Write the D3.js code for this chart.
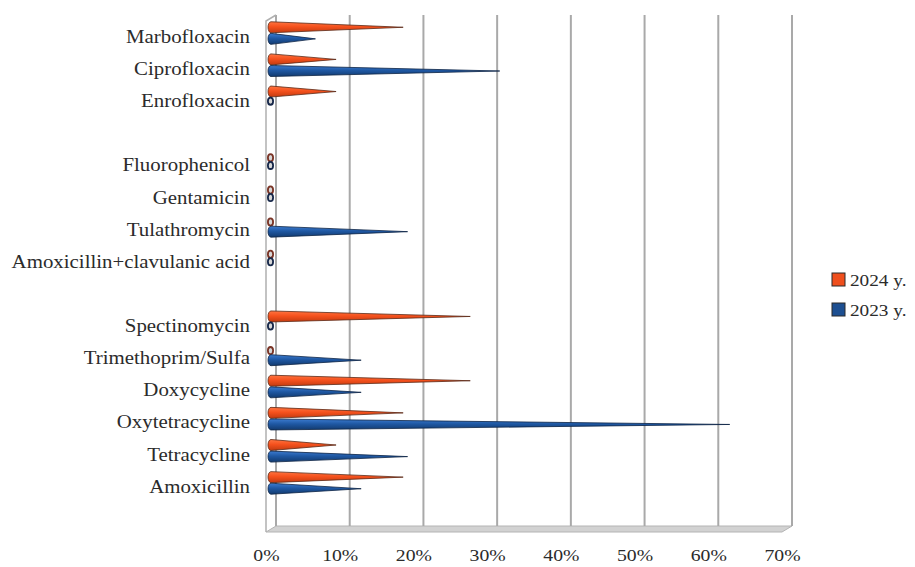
<!DOCTYPE html>
<html>
<head>
<meta charset="utf-8">
<script src="https://cdn.jsdelivr.net/npm/d3@7/dist/d3.min.js"></script>
<style>
  html, body { margin: 0; padding: 0; background: #fff; }
  svg { display: block; }
  text { font-family: "Liberation Serif", "Times New Roman", serif; fill: #2b2b2b; }
</style>
</head>
<body>
<svg id="chart" width="915" height="567"></svg>
<script>
// Antibiotic usage share by drug, two survey years (null = spacer row)
const categories = [
  "Marbofloxacin", "Ciprofloxacin", "Enrofloxacin", null,
  "Fluorophenicol", "Gentamicin", "Tulathromycin", "Amoxicillin+clavulanic acid", null,
  "Spectinomycin", "Trimethoprim/Sulfa", "Doxycycline", "Oxytetracycline", "Tetracycline", "Amoxicillin"
];
const values2024 = [18.2, 9.1, 9.1, null, 0, 0, 0, 0, null, 27.3, 0, 27.3, 18.2, 9.1, 18.2];
const values2023 = [6.3, 31.3, 0, null, 0, 0, 18.8, 0, null, 0, 12.5, 12.5, 62.5, 18.8, 12.5];
const seriesNames = ["2024 y.", "2023 y."];
const tickValues = [0, 10, 20, 30, 40, 50, 60, 70];

const svg = d3.select("#chart");
const defs = svg.append("defs");

// 3D depth of the plot box (front -> back shift)
const depthX = 10, depthY = -6;
const x = d3.scaleLinear().domain([0, 70]).range([266, 782]);
const y = d3.scaleBand().domain(d3.range(categories.length)).range([21, 503]).paddingInner(0);
const stretch = 1.16;

const palette = {
  "2024 y.": { top: "#ff7440", mid: "#f5511d", bot: "#c23b10", edge: "#5a2a18", ring: "#7a3426", legend: "#ef4f1d" },
  "2023 y.": { top: "#3c7bcf", mid: "#1f58a3", bot: "#123a6e", edge: "#0e2445", ring: "#17284a", legend: "#1d4f91" }
};
seriesNames.forEach((s, k) => {
  const p = palette[s];
  const g = defs.append("linearGradient").attr("id", "grad" + k)
    .attr("x1", 0).attr("y1", 0).attr("x2", 0).attr("y2", 1);
  g.append("stop").attr("offset", "0%").attr("stop-color", p.top);
  g.append("stop").attr("offset", "45%").attr("stop-color", p.mid);
  g.append("stop").attr("offset", "100%").attr("stop-color", p.bot);
});

// floor of the plot box
const yTopBack = 15, yBotFront = 532;
const floorPts = [
  [x(0), yBotFront], [x(0) + depthX, yBotFront + depthY],
  [x(70) + depthX, yBotFront + depthY], [x(70), yBotFront]
];
svg.append("path")
  .attr("d", d3.line()(floorPts) + "Z")
  .attr("fill", "#d2d2d2").attr("stroke", "#b4b4b4").attr("stroke-width", 1);

// back-wall gridlines
svg.append("g").selectAll("line").data(tickValues).join("line")
  .attr("x1", d => x(d) + depthX).attr("x2", d => x(d) + depthX)
  .attr("y1", yTopBack).attr("y2", yBotFront + depthY)
  .attr("stroke", "#a9a9a9").attr("stroke-width", 2);

// left side wall
svg.append("path")
  .attr("d", d3.line()([
    [x(0), yBotFront], [x(0), yTopBack - depthY],
    [x(0) + depthX, yTopBack]
  ]))
  .attr("fill", "none").attr("stroke", "#b0b0b0").attr("stroke-width", 1.5);

// cones
const cx0 = x(0) + depthX / 2;
const r = 5.5;
const rx = 3;
const rows = [];
categories.forEach((c, i) => {
  if (c === null) return;
  const yc = y(i) + y.bandwidth() / 2 - 4;
  [values2024[i], values2023[i]].forEach((v, k) => {
    rows.push({ i, k, v, cy: yc + (k === 0 ? -5.8 : 5.8) });
  });
});

const bars = svg.append("g");
rows.forEach(d => {
  const p = palette[seriesNames[d.k]];
  if (d.v > 0) {
    const tip = x(d.v) + 3;
    const path = `M${cx0},${d.cy - r} L${tip},${d.cy} L${cx0},${d.cy + r} A${rx},${r} 0 0 1 ${cx0},${d.cy - r} Z`;
    bars.append("path").attr("d", path)
      .attr("fill", `url(#grad${d.k})`)
      .attr("stroke", p.edge).attr("stroke-width", 0.8).attr("stroke-linejoin", "round");
  } else {
    bars.append("ellipse")
      .attr("cx", cx0 - 0.5).attr("cy", d.cy + (d.k === 0 ? 2.0 : -2.0))
      .attr("rx", 2.6).attr("ry", 3.6)
      .attr("fill", "#d8d8d8").attr("stroke", p.ring).attr("stroke-width", 1.8);
  }
});

// category labels
const yAxis = d3.axisLeft(y)
  .tickValues(d3.range(categories.length).filter(i => categories[i] !== null))
  .tickFormat(i => categories[i])
  .tickSize(0).tickPadding(0);
const yg = svg.append("g").attr("transform", "translate(250,0)").call(yAxis);
yg.select(".domain").remove();
yg.selectAll("text")
  .attr("font-size", 18).attr("fill", "#2b2b2b")
  .style("font-family", "'Liberation Serif', serif")
  .attr("transform", `scale(${stretch},1)`);

// value axis labels
const xAxis = d3.axisBottom(x).tickValues(tickValues)
  .tickFormat(d => d + "%").tickSize(0).tickPadding(0);
const xg = svg.append("g").attr("transform", "translate(0,549)").call(xAxis);
xg.select(".domain").remove();
xg.selectAll("text")
  .attr("font-size", 17).attr("fill", "#2b2b2b")
  .style("font-family", "'Liberation Serif', serif")
  .attr("transform", `scale(${stretch},1)`);

// legend
const legend = svg.append("g").attr("transform", "translate(832,273)");
seriesNames.forEach((s, k) => {
  const g = legend.append("g").attr("transform", `translate(0,${k * 30})`);
  g.append("rect").attr("width", 13).attr("height", 13)
    .attr("fill", palette[s].legend).attr("stroke", "#2a2a2a").attr("stroke-width", 1);
  g.append("text").attr("x", 0).attr("y", 12.5)
    .attr("font-size", 17.5)
    .attr("transform", `translate(18,0) scale(1.1,1)`)
    .text(s);
});
</script>
</body>
</html>
